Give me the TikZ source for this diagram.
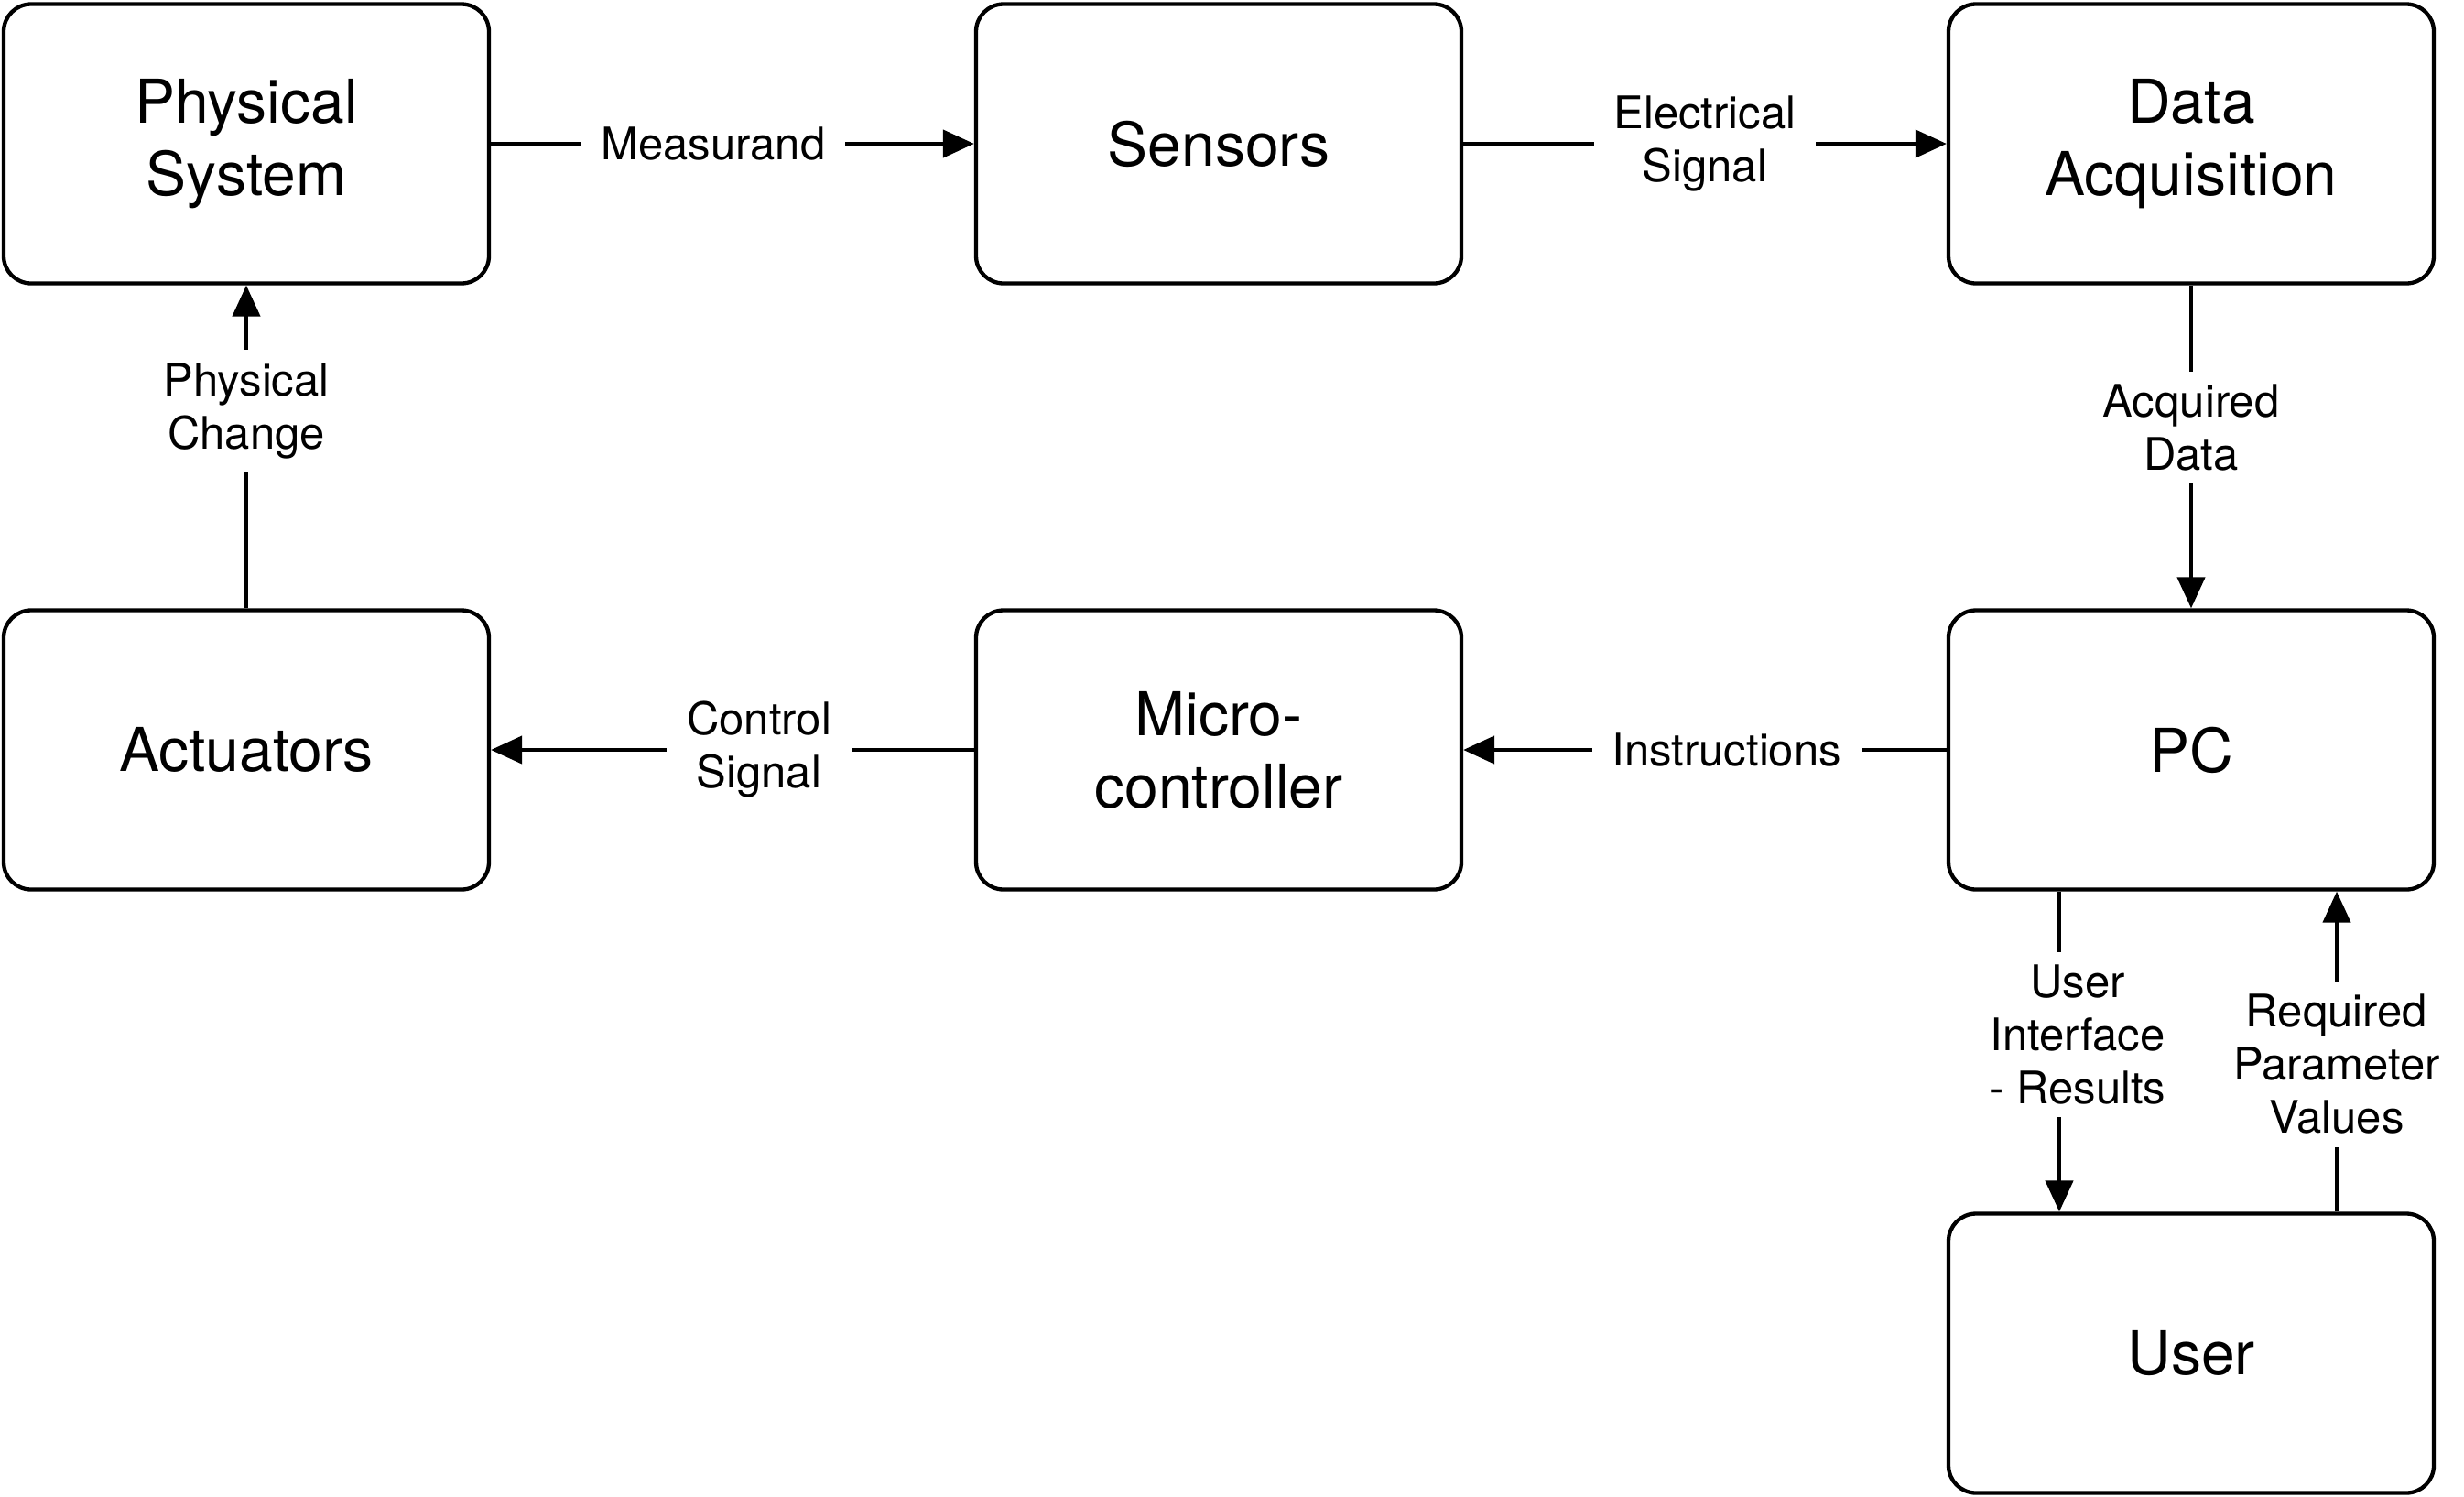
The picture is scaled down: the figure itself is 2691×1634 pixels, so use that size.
\documentclass[tikz,border=0pt]{standalone}
\usepackage{fontspec}
\setmainfont{TeX Gyre Heros}
\usetikzlibrary{arrows.meta}
\begin{document}
\begin{tikzpicture}[x=1pt,y=-1pt,
  blk/.style={draw, line width=4.3pt, rounded corners=30pt, minimum width=530pt, minimum height=305pt, align=center, font=\fontsize{66}{79}\selectfont, inner sep=0pt},
  arr/.style={line width=4.3pt, -{Triangle[length=34pt,width=30pt]}},
  lbl/.style={fill=white, align=center, font=\fontsize{49}{58}\selectfont, inner xsep=22pt, inner ysep=14pt}]
\useasboundingbox (0,0) rectangle (2691,1634);
\node[blk] (ps) at (269,157) {Physical\\System};
\node[blk] (sen) at (1331,157) {Sensors};
\node[blk] (da) at (2393,157) {Data\\Acquisition};
\node[blk] (act) at (269,819) {Actuators};
\node[blk] (mc) at (1331,819) {Micro-\\controller};
\node[blk] (pc) at (2393,819) {PC};
\node[blk] (user) at (2393,1478) {User};

\draw[arr] (ps.east) -- (sen.west) node[lbl, pos=.46] {Measurand};
\draw[arr] (sen.east) -- (da.west) node[lbl, pos=.5] {Electrical\\Signal};
\draw[arr] (da.south) -- (pc.north) node[lbl, pos=.44] {Acquired\\Data};
\draw[arr] (pc.west) -- (mc.east) node[lbl, pos=.455] {Instructions};
\draw[arr] (mc.west) -- (act.east) node[lbl, pos=.445] {Control\\Signal};
\draw[arr] (act.north) -- (ps.south) node[lbl, pos=.612] {Physical\\Change};
\draw[arr] ([xshift=-144pt]pc.south) -- ([xshift=-144pt]user.north) node[lbl, pos=.447, xshift=20pt] {User\\Interface\\- Results};
\draw[arr] ([xshift=159pt]user.north) -- ([xshift=159pt]pc.south) node[lbl, pos=.46] {Required\\Parameter\\Values};
\end{tikzpicture}
\end{document}
